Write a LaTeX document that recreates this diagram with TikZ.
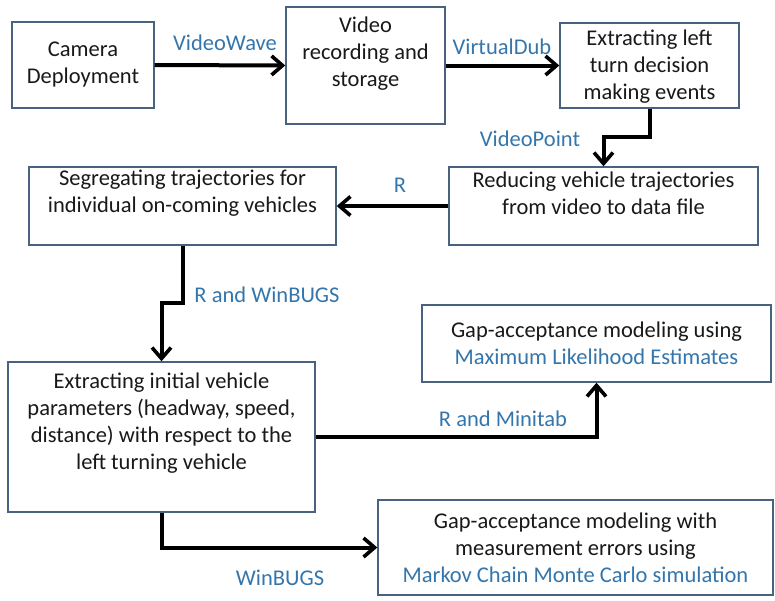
\documentclass[tikz,border=0pt]{standalone}
\usepackage{fontspec}
\setmainfont{Carlito}
\usetikzlibrary{arrows.meta}
\definecolor{boxline}{RGB}{72,98,128}
\definecolor{toolblue}{RGB}{52,118,172}
\definecolor{ink}{RGB}{25,25,25}
\begin{document}
\begin{tikzpicture}[x=1pt,y=-1pt,
  box/.style={draw=boxline,line width=1.4pt,fill=white,inner sep=0pt},
  txt/.style={align=center,text=ink,font=\fontsize{22.5}{27}\selectfont,inner sep=0pt},
  tool/.style={text=toolblue,font=\fontsize{22.5}{27}\selectfont,inner sep=0pt},
  flow/.style={line width=4pt,draw=black,line join=miter,
    -{Straight Barb[length=11pt,width=19pt,line width=3.6pt]}}]
\useasboundingbox (0,0) rectangle (775,600);

% process boxes
\node[box,minimum width=142pt,minimum height=86pt] (b1) at (83,65) {};
\node[box,minimum width=159pt,minimum height=117pt] (b2) at (365.5,65.5) {};
\node[box,minimum width=179pt,minimum height=85pt] (b3) at (649.5,65.5) {};
\node[box,minimum width=309pt,minimum height=78pt] (b4) at (603.5,206) {};
\node[box,minimum width=307pt,minimum height=78pt] (b5) at (182.5,206) {};
\node[box,minimum width=307pt,minimum height=150pt] (b6) at (161.5,437) {};
\node[box,minimum width=349pt,minimum height=77pt] (b7) at (596.5,343.5) {};
\node[box,minimum width=395pt,minimum height=95pt] (b8) at (575.5,547.5) {};

% box texts
\node[txt] (t1) at (83,65) {Camera\\Deployment};
\node[txt] (t2) at (365.5,53.5) {Video\\recording and\\storage};
\node[txt] (t3) at (649.5,67) {Extracting left\\turn decision\\making events};
\node[txt] (t4) at (603.5,193) {Reducing vehicle trajectories\\from video to data file};
\node[txt] (t5) at (182.5,193) {Segregating trajectories for\\individual on-coming vehicles};
\node[txt] (t6) at (161.5,423) {Extracting initial vehicle\\parameters (headway, speed,\\distance) with respect to the\\left turning vehicle};
\node[txt] (t7) at (596.5,343.5) {Gap-acceptance modeling using\\\textcolor{toolblue}{Maximum Likelihood Estimates}};
\node[txt] (t8) at (575.5,547.5) {Gap-acceptance modeling with\\measurement errors using\\\textcolor{toolblue}{Markov Chain Monte Carlo simulation}};

% connectors
\draw[flow] (b1.east) -- (b2.west);
\draw[flow] (b2.east) -- (b3.west);
\draw[flow] (b3.south) -- (b3.south |- 0,137) -- (b4.north |- 0,137) -- (b4.north);
\draw[flow] (b4.west) -- (b5.east);
\draw[flow] (b5.south) -- (b5.south |- 0,303) -- (b6.north |- 0,303) -- (b6.north);
\draw[flow] (b6.east) -| (b7.south);
\draw[flow] (b6.south) |- (b8.west);

% tool labels
\node[tool] (l1) at (225,43) {VideoWave};
\node[tool] (l2) at (502,47) {VirtualDub};
\node[tool] (l3) at (530,139) {VideoPoint};
\node[tool] (l4) at (400,185) {R};
\node[tool] (l5) at (267,295) {R and WinBUGS};
\node[tool] (l6) at (503,419) {R and Minitab};
\node[tool] (l7) at (280,578) {WinBUGS};
\end{tikzpicture}
\end{document}
